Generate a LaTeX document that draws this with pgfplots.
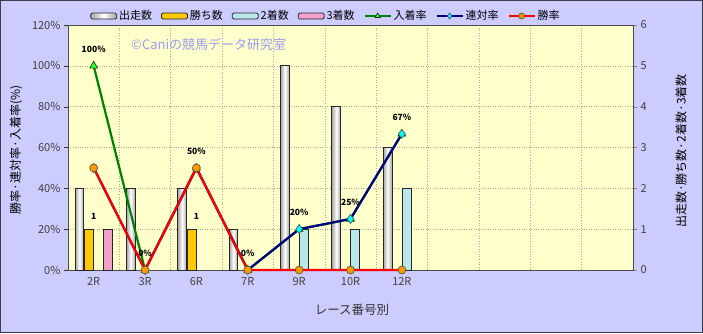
\documentclass[border=0pt]{standalone}
\usepackage{fontspec}
\setmainfont{Noto Sans CJK JP}
\usepackage{pgfplots}
\pgfplotsset{compat=1.18}
\definecolor{bgc}{HTML}{CCCCFF}
\definecolor{plotc}{HTML}{FFFFCC}
\definecolor{framec}{HTML}{3C3C50}
\definecolor{barwhite}{HTML}{EEEEEE}
\definecolor{bargold}{HTML}{FFC800}
\definecolor{barcyan}{HTML}{B8E8E8}
\definecolor{barpink}{HTML}{F2A0C8}
\definecolor{lgreen}{HTML}{008000}
\definecolor{mgreen}{HTML}{33FF33}
\definecolor{lnavy}{HTML}{000080}
\definecolor{mcyan}{HTML}{00FFFF}
\definecolor{lred}{HTML}{FF0000}
\definecolor{morange}{HTML}{FF9900}
\definecolor{wmark}{HTML}{9C9CF0}
\definecolor{gridc}{HTML}{A8A8A0}
\pgfplotsset{
  wbar/.style={ybar, bar shift=-0.2775, left color=black!35, right color=black!35, middle color=white, draw=black!85, line width=0.9pt},
}
\begin{document}
\begin{tikzpicture}
\fill[bgc] (0pt,0pt) rectangle (703pt,333pt);
\draw[framec, line width=1.4pt] (0.7pt,0.7pt) rectangle (702.3pt,332.3pt);
\useasboundingbox (0pt,0pt) rectangle (703pt,333pt);
% bars (right axis)
\begin{axis}[
  at={(68pt,63pt)}, anchor=south west, scale only axis,
  width=565pt, height=245pt,
  xmin=-0.5, xmax=10.5, ymin=0, ymax=6,
  axis background/.style={fill=plotc},
  axis line style={draw=black!70, line width=0.8pt},
  xtick={0,...,6}, xticklabels={2R,3R,6R,7R,9R,10R,12R},
  minor xtick={0.5,1.5,...,9.5},
  xtick style={draw=none}, minor tick length=0pt,
  ytick={0,...,6}, yticklabels={0,1,2,3,4,5,6},
  ytick pos=right, yticklabel pos=right,
  tick align=outside, major tick length=4pt,
  ymajorgrids, xminorgrids,
  grid style={dotted, gridc, line width=0.6pt},
  minor grid style={dotted, gridc, line width=0.6pt},
  tick label style={font=\fontsize{11}{12}\selectfont, text=black!75},
  bar width=0.17,
]
\addplot[wbar] coordinates {(0,2)};
\addplot[wbar] coordinates {(1,2)};
\addplot[wbar] coordinates {(2,2)};
\addplot[wbar] coordinates {(3,1)};
\addplot[wbar] coordinates {(4,5)};
\addplot[wbar] coordinates {(5,4)};
\addplot[wbar] coordinates {(6,3)};
\addplot[ybar, bar shift=-0.0925, fill=bargold, draw=black!85, line width=0.9pt,
  nodes near coords, point meta=explicit symbolic,
  nodes near coords align={above},
  every node near coord/.append style={font=\fontsize{8.5}{9}\selectfont\bfseries, yshift=6pt, text=black}]
  coordinates {(0,1)[1] (2,1)[1]};
\addplot[ybar, bar shift=0.0925, fill=barcyan, draw=black!85, line width=0.9pt]
  coordinates {(4,1) (5,1) (6,2)};
\addplot[ybar, bar shift=0.2775, fill=barpink, draw=black!85, line width=0.9pt]
  coordinates {(0,1)};
\end{axis}
% lines (left axis)
\begin{axis}[
  at={(68pt,63pt)}, anchor=south west, scale only axis,
  width=565pt, height=245pt,
  xmin=-0.5, xmax=10.5, ymin=0, ymax=120,
  axis line style={draw=none},
  xtick=\empty,
  ytick={0,20,...,120}, yticklabels={0\%,20\%,40\%,60\%,80\%,100\%,120\%},
  ytick pos=left, tick align=outside, major tick length=4pt,
  tick style={black!80},
  tick label style={font=\fontsize{11}{12}\selectfont, text=black!75},
  clip=false,
  legend image code/.code={\draw[mark repeat=2,mark phase=2,#1, line width=2pt, mark size=3pt] plot coordinates {(0pt,0pt) (13pt,0pt) (26pt,0pt)};},
  legend style={at={(0.4566,1.0367)}, anchor=center, legend columns=-1,
    draw=none, fill=none, font=\fontsize{11}{12}\selectfont, inner sep=0pt,
    /tikz/every even column/.append style={column sep=7pt}},
]
\addlegendimage{legend image code/.code={\draw[left color=black!35, right color=black!35, middle color=white, draw=black!85, line width=0.8pt, rounded corners=1.5pt] (0pt,-3pt) rectangle (26pt,3pt);}}
\addlegendentry{出走数}
\addlegendimage{legend image code/.code={\draw[fill=bargold, draw=black!85, line width=0.8pt, rounded corners=1.5pt] (0pt,-3pt) rectangle (26pt,3pt);}}
\addlegendentry{勝ち数}
\addlegendimage{legend image code/.code={\draw[fill=barcyan, draw=black!85, line width=0.8pt, rounded corners=1.5pt] (0pt,-3pt) rectangle (26pt,3pt);}}
\addlegendentry{2着数}
\addlegendimage{legend image code/.code={\draw[fill=barpink, draw=black!85, line width=0.8pt, rounded corners=1.5pt] (0pt,-3pt) rectangle (26pt,3pt);}}
\addlegendentry{3着数}
\addplot[color=lgreen, line width=2.2pt, mark=triangle*, mark size=4.5pt,
  mark options={fill=mgreen, draw=black!60!lgreen, line width=0.6pt},
  nodes near coords, point meta=explicit symbolic,
  nodes near coords align={above},
  every node near coord/.append style={font=\fontsize{8.5}{9}\selectfont\bfseries, yshift=10pt, text=black}]
  coordinates {(0,100)[100\%] (1,0)[0\%] (2,50)[50\%] (3,0)[0\%] (4,20)[20\%] (5,25)[25\%] (6,66.67)[67\%]};
\addlegendentry{入着率}
\addplot[color=lnavy, line width=2.2pt, mark=diamond*, mark size=4.5pt,
  mark options={fill=mcyan, draw=black!70, line width=0.6pt}]
  coordinates {(0,50) (1,0) (2,50) (3,0) (4,20) (5,25) (6,66.67)};
\addlegendentry{連対率}
\addplot[color=lred, line width=2.2pt, mark=*, mark size=4pt,
  mark options={fill=morange, draw=black!70, line width=0.6pt}]
  coordinates {(0,50) (1,0) (2,50) (3,0) (4,0) (5,0) (6,0)};
\addlegendentry{勝率}
\end{axis}
\node[rotate=90, font=\fontsize{12}{13}\selectfont] at (16pt,183pt) {勝率·連対率·入着率(\%)};
\node[rotate=90, font=\fontsize{12}{13}\selectfont] at (681pt,182pt) {出走数·勝ち数·2着数·3着数};
\node[font=\fontsize{12.5}{13}\selectfont, text=black!80] at (352pt,23pt) {レース番号別};
\node[anchor=west, font=\fontsize{13}{14}\selectfont, text=wmark, inner sep=0pt] at (131pt,288pt) {©Caniの競馬データ研究室};
\end{tikzpicture}
\end{document}
